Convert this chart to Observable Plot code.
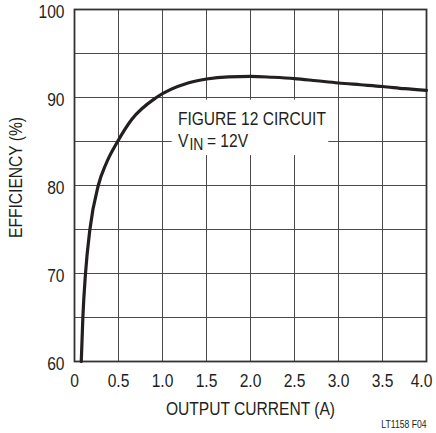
<!DOCTYPE html>
<html>
<head>
<meta charset="utf-8">
<script src="https://cdn.jsdelivr.net/npm/d3@7"></script>
<script src="https://cdn.jsdelivr.net/npm/@observablehq/plot@0.6"></script>
<style>
  html, body { margin: 0; padding: 0; background: #fff; }
  #chart svg { display: block; }
</style>
</head>
<body>
<div id="chart"></div>
<script>
// Efficiency curve
const current = [0.077, 0.095, 0.125, 0.175, 0.27, 0.36, 0.49, 0.65, 0.93, 1.29, 1.5, 1.75, 2.0, 2.25, 2.5, 2.75, 3.0, 3.25, 3.5, 3.75, 4.0];
const efficiency = [60, 65, 70, 75, 80, 82.5, 85, 87.5, 90, 91.65, 92.1, 92.35, 92.4, 92.3, 92.15, 91.9, 91.65, 91.45, 91.25, 91.0, 90.8];

const xTicks = [0, 0.5, 1.0, 1.5, 2.0, 2.5, 3.0, 3.5, 4.0];
const yTicks = [60, 70, 80, 90, 100];
const yGrid = [60, 65, 70, 75, 80, 85, 90, 95, 100];

// annotation: "FIGURE 12 CIRCUIT" / "V" + subscript "IN" + "= 12V"
const noteTitle = "FIGURE 12 CIRCUIT";
const noteV = "V";
const noteSub = "IN";
const noteValue = "= 12V";
const noteX = 1.175;
const noteY1 = 87.55;
const noteY2 = 85.05;
const noteBox = [{x1: 1.11, x2: 2.89, y1: 83.4, y2: 89.7}];

const xLabel = "OUTPUT CURRENT (A)";
const yLabel = "EFFICIENCY (%)";
const footnote = "LT1158 F04";

const data = current.map((c, i) => ({c, e: efficiency[i]}));

const FONT = "'Liberation Sans', Arial, sans-serif";
const NARROW = 0.82; // emulate a narrow (condensed) face
const INK = "#231f20";

const chart = Plot.plot({
  width: 436,
  height: 433,
  marginLeft: 74,
  marginRight: 10,
  marginTop: 9,
  marginBottom: 72,
  style: {fontFamily: FONT, background: "#fff", color: INK},
  x: {domain: [0, 4]},
  y: {domain: [60, 100]},
  marks: [
    Plot.gridX(xTicks, {stroke: "#4a4a4a", strokeOpacity: 1, strokeWidth: 1}),
    Plot.gridY(yGrid, {stroke: "#4a4a4a", strokeOpacity: 1, strokeWidth: 1}),
    Plot.rect(noteBox, {x1: "x1", x2: "x2", y1: "y1", y2: "y2", fill: "#fff"}),
    Plot.frame({stroke: "#333", strokeWidth: 1.8}),
    Plot.axisX({ticks: xTicks, tickSize: 0, tickPadding: 12, fontSize: 19, label: null,
      tickFormat: d => d === 0 ? "0" : d.toFixed(1), fill: INK}),
    Plot.axisY({ticks: yTicks, tickSize: 0, tickPadding: 10, fontSize: 19, label: null, dy: 2, fill: INK}),
    Plot.line(data, {x: "c", y: "e", stroke: INK, strokeWidth: 3.2, curve: "monotone-x"}),
    Plot.text([noteTitle], {x: () => noteX, y: () => noteY1, textAnchor: "start", lineAnchor: "middle", fontSize: 19, fill: INK}),
    Plot.text([noteV], {x: () => noteX, y: () => noteY2, textAnchor: "start", lineAnchor: "middle", fontSize: 19, fill: INK}),
    Plot.text([noteSub], {x: () => noteX, y: () => noteY2, dx: 11.5, dy: 3.5, textAnchor: "start", lineAnchor: "middle", fontSize: 17, fill: INK}),
    Plot.text([noteValue], {x: () => noteX, y: () => noteY2, dx: 29, textAnchor: "start", lineAnchor: "middle", fontSize: 19, fill: INK}),
    Plot.text([xLabel], {frameAnchor: "bottom", dy: 47, textAnchor: "middle", lineAnchor: "middle", fontSize: 19, fill: INK}),
    Plot.text([yLabel], {frameAnchor: "left", dx: -58.5, dy: -8, rotate: -90, textAnchor: "middle", lineAnchor: "middle", fontSize: 19, fill: INK}),
    Plot.text([footnote], {frameAnchor: "bottom-right", dx: 0, dy: 63.5, textAnchor: "end", lineAnchor: "middle", fontSize: 10.5, fill: INK})
  ]
});

document.getElementById("chart").append(chart);

// condense every text horizontally
d3.select(chart).selectAll("text").each(function() {
  const len = this.getComputedTextLength();
  if (len > 0) {
    this.setAttribute("textLength", (len * NARROW).toFixed(2));
    this.setAttribute("lengthAdjust", "spacingAndGlyphs");
  }
});

// keep the last x tick label inside the picture, as in the reference
d3.select(chart).selectAll("text").filter(function() { return this.textContent === "4.0"; })
  .attr("dx", -5);
</script>
</body>
</html>
